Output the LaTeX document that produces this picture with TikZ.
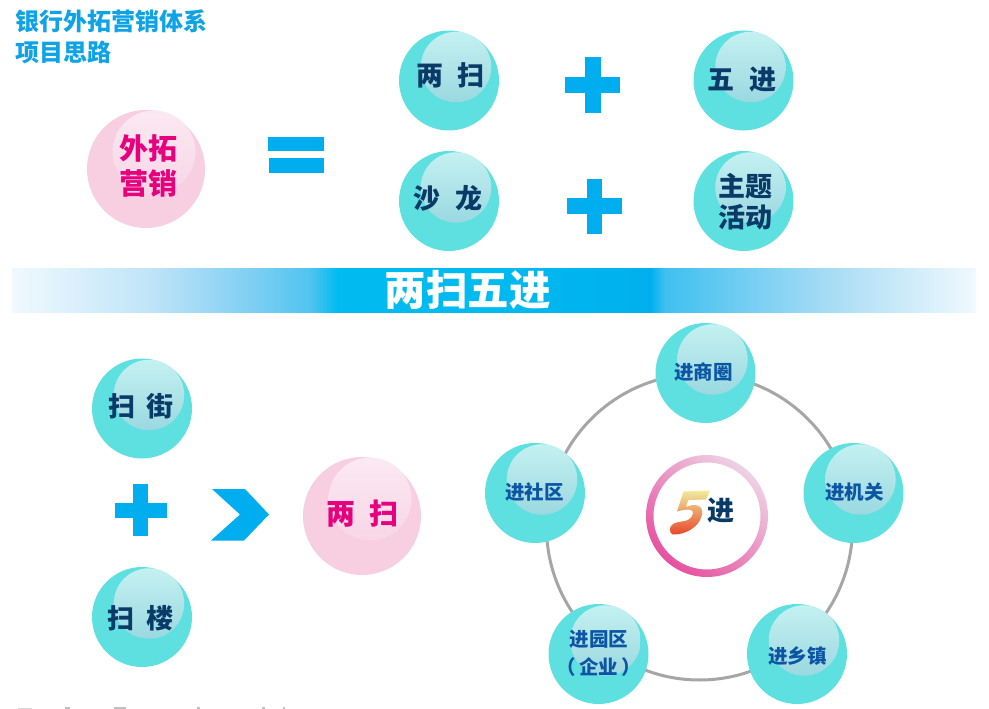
\documentclass[tikz,border=0pt]{standalone}
\usepackage{fontspec}
\setmainfont{Noto Sans CJK SC}
\usetikzlibrary{calc}
\definecolor{teal}{HTML}{5FE0E0}
\definecolor{hiT}{HTML}{C4F1F1}
\definecolor{hiB}{HTML}{9AD8E0}
\definecolor{pk}{HTML}{F7CFE0}
\definecolor{pkhiT}{HTML}{FBE9F2}
\definecolor{pkhiB}{HTML}{F8D6E5}
\definecolor{navy}{HTML}{0A3A68}
\definecolor{midblue}{HTML}{0B55A5}
\definecolor{magenta1}{HTML}{E6007E}
\definecolor{cyan1}{HTML}{00AEEF}
\definecolor{title1}{HTML}{0FA3E6}
\definecolor{ringA}{HTML}{EFDCEA}
\definecolor{ringB}{HTML}{EC9CC4}
\definecolor{ringC}{HTML}{E5479A}
\definecolor{bA}{HTML}{F0F9FE}
\definecolor{bB}{HTML}{C0E4F8}
\definecolor{bC}{HTML}{80CFF3}
\definecolor{bD}{HTML}{50C4F0}
\definecolor{bE}{HTML}{00BAF0}
\definecolor{bF}{HTML}{00B0EE}
\definecolor{bG}{HTML}{40C0F0}
\definecolor{bH}{HTML}{A8DCF5}
\definecolor{fiveA}{HTML}{F0EC9C}
\definecolor{fiveB}{HTML}{F2B86A}
\definecolor{fiveC}{HTML}{E8452A}
\pgfdeclarehorizontalshading{bandshade}{100bp}{%
  color(0bp)=(bA); color(25bp)=(bA); color(32.16bp)=(bB); color(37.34bp)=(bC);
  color(40.46bp)=(bD); color(41.9bp)=(bE); color(50bp)=(bE); color(58.09bp)=(bF);
  color(58.87bp)=(bG); color(67.43bp)=(bH); color(75bp)=(bA); color(100bp)=(bA)}
\tikzset{
  x=1pt,y=-1pt,
  tealball/.style={circle,fill=teal,minimum size=100pt,inner sep=0pt},
  pinkball/.style={circle,fill=pk,minimum size=118pt,inner sep=0pt},
  tealhi/.style={circle,minimum size=70.5pt,inner sep=0pt,top color=hiT,bottom color=hiB},
  pinkhi/.style={circle,minimum size=83pt,inner sep=0pt,top color=pkhiT,bottom color=pkhiB},
  navytext/.style={text=navy,font=\fontsize{27}{31}\selectfont\bfseries,align=center,inner sep=0pt},
  bluetext/.style={text=midblue,font=\fontsize{19.5}{27.5}\selectfont\bfseries,align=center,inner sep=0pt},
  pinktext/.style={text=magenta1,font=\fontsize{29}{35}\selectfont\bfseries,align=center,inner sep=0pt},
  titletext/.style={text=title1,font=\fontsize{24}{29}\selectfont\bfseries,anchor=west,inner sep=0pt},
  solidbar/.style={fill=cyan1,draw=none},
}
% name, ball x, ball y, style, text x, text y, text
\newcommand{\tball}[7]{%
  \node[tealball] (#1) at (#2,#3) {};
  \node[tealhi] (#1h) at ($(#2,#3)+(7,-13.5)$) {};
  \node[#4] (#1t) at (#5,#6) {#7};
}
\newcommand{\pball}[6]{%
  \node[pinkball] (#1) at (#2,#3) {};
  \node[pinkhi] (#1h) at ($(#2,#3)+(8,-17)$) {};
  \node[pinktext] (#1t) at (#4,#5) {#6};
}
\begin{document}
\begin{tikzpicture}
\useasboundingbox (0,0) rectangle (989,709);
\node[titletext] (t1) at (15,21) {银行外拓营销体系};
\node[titletext] (t2) at (15,52) {项目思路};

% ring behind
\draw[draw=black!35,line width=3pt] (699.5,527) circle (153);

\pball{ww}{146}{169}{148.5}{166}{外拓\\营销}
\fill[solidbar] (268,137) rectangle (324,151);
\fill[solidbar] (269,158) rectangle (324,173);

\tball{a}{449}{80.5}{navytext}{450.5}{75}{两\hspace{15pt}扫}
\tball{b}{449}{201}{navytext}{448}{198}{沙\hspace{15pt}龙}
\tball{c}{743.5}{80.5}{navytext}{742}{80}{五\hspace{15pt}进}
\tball{d}{743.5}{201}{navytext}{745}{201.5}{主题\\活动}

\fill[solidbar] (565,77) rectangle (620,93);
\fill[solidbar] (584.5,57) rectangle (600.5,113);
\fill[solidbar] (567,198) rectangle (622,214);
\fill[solidbar] (587,179) rectangle (602,234);

% band
\shade[shading=bandshade] (12,268) rectangle (976,312);
\node[text=white,font=\fontsize{41.5}{44}\selectfont\bfseries,inner sep=0pt] (band) at (467.5,290) {两扫五进};

% left part
\tball{s1}{142}{408.5}{navytext}{141}{406}{扫\hspace{12pt}街}
\tball{s2}{142}{617}{navytext}{140.5}{618}{扫\hspace{12pt}楼}
\fill[solidbar] (115,503) rectangle (167,518);
\fill[solidbar] (133,484) rectangle (148,536);
\fill[solidbar] (212,489) -- (245,489) -- (269,514.5) -- (244,540.5) -- (211,540.5) -- (240,514.5) -- cycle;
\pball{ls}{362}{516}{362.5}{514}{两\hspace{15pt}扫}

% five nodes
\tball{n1}{705.5}{373}{bluetext}{703.5}{372}{进商圈}
\tball{n2}{853.5}{493}{bluetext}{854.5}{492}{进机关}
\tball{n3}{797}{654}{bluetext}{797.5}{656}{进乡镇}
\tball{n4}{598.5}{654}{bluetext}{599}{653.5}{进园区\\（\,企业\,）}
\tball{n5}{535}{493}{bluetext}{534.5}{492}{进社区}

% centre ring
\fill[white] (707,516) circle (61);
\begin{scope}[even odd rule]
  \clip (707,516) circle (61) (707,516) circle (53.5);
  \shade[top color=ringA,middle color=ringB,bottom color=ringC,shading angle=-40]
    (637,446) rectangle (777,586);
\end{scope}
% the numeral 5
\shade[top color=fiveA,middle color=fiveB,bottom color=fiveC]
  (683.5,491.5) -- (710,490.5) -- (706,499.5) -- (688.5,500)
  .. controls (687,503) and (686.5,505) .. (686,507)
  .. controls (695,503) and (704,505) .. (702,515)
  .. controls (699,528) and (684,535) .. (672.5,534.5)
  .. controls (669,533) and (669,526) .. (673,524)
  .. controls (678,521) and (684,522) .. (688,520)
  .. controls (694,516) and (695,510) .. (689,509.5)
  .. controls (685,509.5) and (681,510.5) .. (677,511.5) -- cycle;
\node[text=navy,font=\fontsize{27}{30}\selectfont\bfseries,inner sep=0pt] (jin) at (721,511) {进};

% cropped fragments at the lower edge
\fill[black!15] (18,707.5) rectangle (32,709);
\fill[black!25] (65,707) rectangle (70,709);
\fill[black!25] (114,707) rectangle (126,709);
\fill[black!25] (197,707) rectangle (200,709);
\fill[black!25] (262,707) rectangle (265,709);
\fill[black!25] (283,707) rectangle (285,709);
\end{tikzpicture}
\end{document}
